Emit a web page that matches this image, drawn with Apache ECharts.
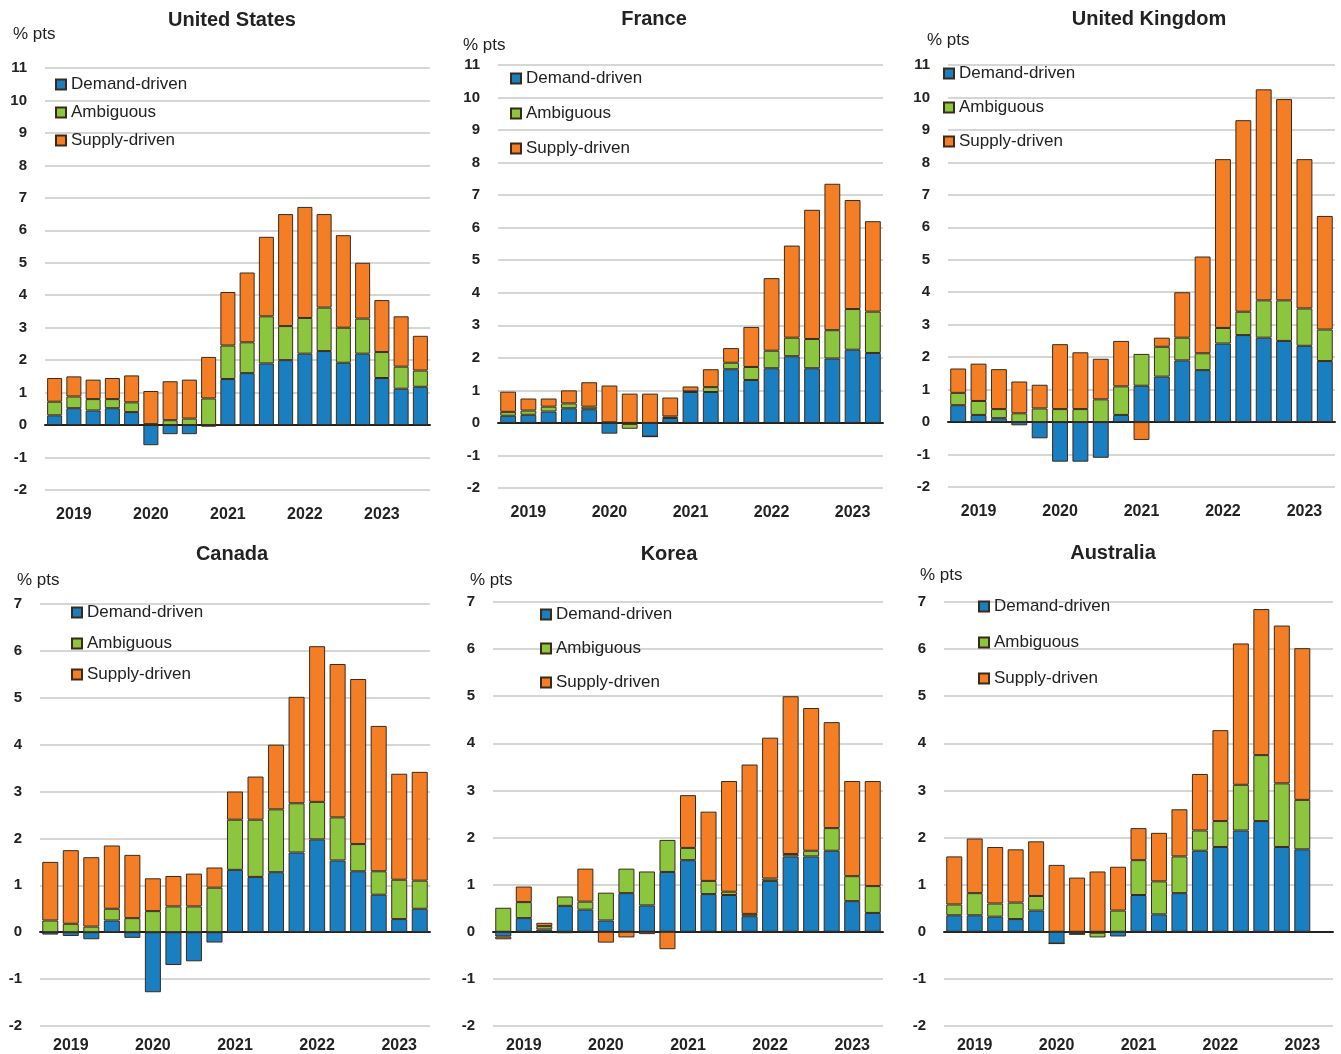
<!DOCTYPE html>
<html>
<head>
<meta charset="utf-8">
<script src="https://cdn.jsdelivr.net/npm/echarts@6/dist/echarts.min.js"></script>
<style>
html,body{margin:0;padding:0;background:#fff;}
#c{width:1341px;height:1054px;}
</style>
</head>
<body>
<div id="c"></div>
<script>
// ---- categories (quarters) ----
const quarters20 = ['2019Q1','2019Q2','2019Q3','2019Q4','2020Q1','2020Q2','2020Q3','2020Q4','2021Q1','2021Q2','2021Q3','2021Q4','2022Q1','2022Q2','2022Q3','2022Q4','2023Q1','2023Q2','2023Q3','2023Q4'];
const quarters19 = quarters20.slice(0, 19);
const seriesNames = ['Demand-driven', 'Ambiguous', 'Supply-driven'];

// ---- United States ----
const usDemand    = [0.30,0.52,0.45,0.52,0.40,-0.62,-0.28,-0.28,-0.05,1.42,1.60,1.90,2.00,2.20,2.28,1.92,2.20,1.45,1.12,1.18];
const usAmbiguous = [0.42,0.36,0.35,0.28,0.30,0.03,0.15,0.20,0.82,1.03,0.95,1.45,1.05,1.10,1.34,1.08,1.08,0.80,0.68,0.50];
const usSupply    = [0.73,0.62,0.60,0.65,0.83,1.02,1.20,1.20,1.28,1.65,2.15,2.45,3.45,3.42,2.88,2.85,1.72,1.60,1.55,1.07];

// ---- France ----
const frDemand    = [0.22,0.25,0.35,0.45,0.42,-0.33,-0.03,-0.42,0.15,0.95,0.95,1.65,1.32,1.68,2.05,1.68,1.98,2.25,2.15];
const frAmbiguous = [0.12,0.13,0.15,0.15,0.08,0.02,-0.15,0.00,0.05,0.02,0.15,0.20,0.40,0.54,0.57,0.90,0.87,1.25,1.27];
const frSupply    = [0.62,0.37,0.25,0.40,0.75,1.13,0.90,0.90,0.58,0.15,0.55,0.45,1.23,2.23,2.83,3.97,4.50,3.35,2.78];

// ---- United Kingdom ----
const ukDemand    = [0.52,0.22,0.12,-0.10,-0.50,-1.22,-1.22,-1.10,0.22,1.12,1.40,1.90,1.60,2.42,2.68,2.60,2.50,2.35,1.88];
const ukAmbiguous = [0.38,0.43,0.28,0.27,0.42,0.40,0.40,0.70,0.88,0.98,0.92,0.70,0.52,0.48,0.72,1.15,1.25,1.15,0.97];
const ukSupply    = [0.75,1.15,1.23,0.98,0.73,2.00,1.75,1.25,1.40,-0.55,0.28,1.40,2.98,5.20,5.90,6.50,6.20,4.60,3.50];

// ---- Canada ----
const caDemand    = [-0.05,-0.08,-0.15,0.25,-0.12,-1.28,-0.70,-0.62,-0.22,1.33,1.18,1.28,1.70,1.98,1.53,1.30,0.80,0.28,0.50];
const caAmbiguous = [0.25,0.18,0.12,0.25,0.30,0.45,0.55,0.55,0.95,1.07,1.22,1.34,1.05,0.80,0.92,0.58,0.50,0.84,0.60];
const caSupply    = [1.25,1.57,1.48,1.35,1.35,0.70,0.65,0.70,0.43,0.60,0.92,1.38,2.27,3.32,3.27,3.52,3.10,2.26,2.32];

// ---- Korea ----
const krDemand    = [-0.10,0.29,0.05,0.55,0.47,0.24,0.82,0.56,1.27,1.52,0.80,0.78,0.33,1.08,1.60,1.60,1.72,0.65,0.40];
const krAmbiguous = [0.51,0.34,0.07,0.20,0.17,0.59,0.52,0.72,0.68,0.26,0.28,0.07,0.05,0.05,0.05,0.12,0.48,0.53,0.57];
const krSupply    = [-0.06,0.33,0.07,-0.03,0.70,-0.23,-0.12,-0.05,-0.37,1.12,1.47,2.35,3.17,2.99,3.35,3.03,2.25,2.02,2.23];

// ---- Australia ----
const auDemand    = [0.35,0.35,0.32,0.27,0.45,-0.25,-0.05,-0.02,-0.10,0.78,0.37,0.82,1.72,1.80,2.15,2.35,1.80,1.75];
const auAmbiguous = [0.23,0.47,0.28,0.35,0.31,0.00,0.00,-0.10,0.45,0.74,0.70,0.78,0.43,0.55,0.97,1.40,1.35,1.05];
const auSupply    = [1.02,1.16,1.20,1.13,1.16,1.42,1.15,1.28,0.93,0.68,1.03,1.00,1.20,1.93,3.00,3.10,3.35,3.22];

const yTicksTop = {min: -2, max: 11, interval: 1};
const yTicksBottom = {min: -2, max: 7, interval: 1};

const colors = ['#1a7fc1', '#8cc63f', '#f47e25'];
const FONT = "'Liberation Sans',Arial,sans-serif";

const panels = [
  {title:'United States', cats:quarters20, data:[usDemand,usAmbiguous,usSupply], y:yTicksTop,
   grid:{left:45, right:1341-430, top:68, bottom:1054-490}, tx:227, ty:5, px:8, py:21, lg:{left:50, top:71, gap:11}},
  {title:'France', cats:quarters19, data:[frDemand,frAmbiguous,frSupply], y:yTicksTop,
   grid:{left:498, right:1341-883, top:65, bottom:1054-488}, tx:649, ty:4, px:458, py:32, lg:{left:505, top:65, gap:18}},
  {title:'United Kingdom', cats:quarters19, data:[ukDemand,ukAmbiguous,ukSupply], y:yTicksTop,
   grid:{left:948, right:1341-1335, top:65, bottom:1054-487}, tx:1144, ty:4, px:922, py:27, lg:{left:938, top:60, gap:17}},
  {title:'Canada', cats:quarters19, data:[caDemand,caAmbiguous,caSupply], y:yTicksBottom,
   grid:{left:40, right:1341-430, top:604, bottom:1054-1032}, tx:227, ty:539, px:12, py:567, lg:{left:66, top:599, gap:14}},
  {title:'Korea', cats:quarters19, data:[krDemand,krAmbiguous,krSupply], y:yTicksBottom,
   grid:{left:493, right:1341-883, top:602, bottom:1054-1030}, tx:664, ty:539, px:465, py:567, lg:{left:535, top:601, gap:17}},
  {title:'Australia', cats:quarters19, data:[auDemand,auAmbiguous,auSupply], y:yTicksBottom,
   grid:{left:944, right:1341-1333, top:602, bottom:1054-1030}, tx:1108, ty:538, px:915, py:562, lg:{left:973, top:593, gap:19}}
];

const option = {
  animation: false,
  backgroundColor: '#fff',
  color: colors,
  title: [], legend: [], grid: [], xAxis: [], yAxis: [], series: []
};

panels.forEach((p, i) => {
  option.title.push({
    text: p.title, left: p.tx, top: p.ty, textAlign: 'center',
    textStyle: {fontFamily: FONT, fontSize: 20, fontWeight: 'bold', color: '#222'}
  });
  option.title.push({
    text: '% pts', left: p.px, top: p.py,
    textStyle: {fontFamily: FONT, fontSize: 17, fontWeight: 'normal', color: '#222'}
  });
  option.legend.push({
    orient: 'vertical', left: p.lg.left, top: p.lg.top, itemGap: p.lg.gap,
    itemWidth: 10, itemHeight: 10, icon: 'rect', selectedMode: false,
    data: seriesNames,
    textStyle: {fontFamily: FONT, fontSize: 17, color: '#222'}
  });
  option.grid.push(Object.assign({containLabel: false}, p.grid));
  option.xAxis.push({
    type: 'category', gridIndex: i, data: p.cats,
    axisLine: {onZero: true, lineStyle: {color: '#222', width: 2}},
    axisTick: {show: false},
    axisLabel: {
      interval: (idx) => idx % 4 === 1,
      formatter: (v) => v.slice(0, 4),
      fontFamily: FONT, fontSize: 16, fontWeight: 'bold', color: '#222',
      margin: i < 3 ? 17 : 12
    },
    splitLine: {show: false}
  });
  option.yAxis.push({
    type: 'value', gridIndex: i, min: p.y.min, max: p.y.max, interval: p.y.interval,
    axisLine: {show: false}, axisTick: {show: false},
    axisLabel: {fontFamily: FONT, fontSize: 15, fontWeight: 'bold', color: '#222', margin: 18},
    splitLine: {lineStyle: {color: '#d6d6d6', width: 2}}
  });
  p.data.forEach((arr, k) => {
    option.series.push({
      type: 'bar', name: seriesNames[k], xAxisIndex: i, yAxisIndex: i,
      stack: 'p' + i, data: arr, barWidth: '78%',
      itemStyle: {color: colors[k], borderColor: '#3a2a1a', borderWidth: 1}
    });
  });
});

const chart = echarts.init(document.getElementById('c'), null, {renderer: 'canvas'});
chart.setOption(option);
</script>
</body>
</html>
